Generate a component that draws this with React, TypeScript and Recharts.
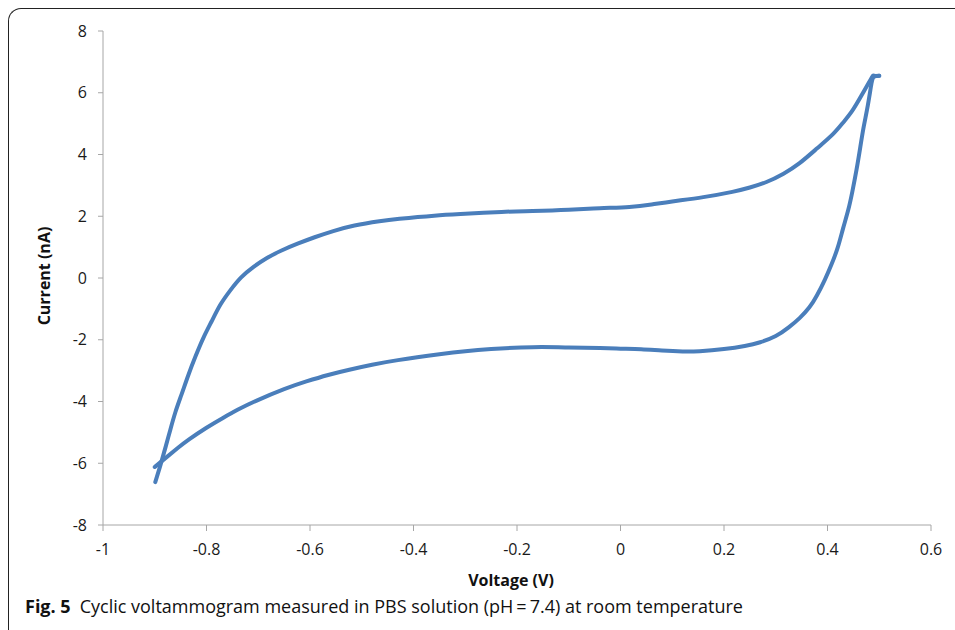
import React from 'react';
import { LineChart, Line, XAxis, YAxis } from 'recharts';

// Forward (anodic) scan
const forwardVoltage: number[] = [
  -0.899, -0.889, -0.879, -0.87, -0.86, -0.848, -0.835, -0.821, -0.806, -0.79,
  -0.773, -0.754, -0.733, -0.709, -0.684, -0.655, -0.624, -0.591, -0.555, -0.514,
  -0.466, -0.427, -0.36, -0.3, -0.23, -0.17, -0.1, -0.04, 0.017, 0.06,
  0.1, 0.16, 0.216, 0.25, 0.282, 0.315, 0.346, 0.38, 0.41, 0.43,
  0.448, 0.467, 0.485, 0.49, 0.5,
];
const forwardCurrent: number[] = [
  -6.61, -6.06, -5.47, -4.92, -4.34, -3.76, -3.14, -2.53, -1.94, -1.4,
  -0.86, -0.4, 0.02, 0.36, 0.64, 0.89, 1.11, 1.32, 1.52, 1.7,
  1.84, 1.92, 2.02, 2.08, 2.14, 2.17, 2.21, 2.26, 2.3, 2.38,
  2.48, 2.62, 2.79, 2.93, 3.11, 3.38, 3.72, 4.2, 4.65, 5.03,
  5.42, 5.95, 6.48, 6.55, 6.55,
];
// Reverse (cathodic) scan
const reverseVoltage: number[] = [
  0.5, 0.49, 0.485, 0.478, 0.47, 0.463, 0.456, 0.448, 0.44, 0.43, 0.42, 0.408,
  0.395, 0.38, 0.365, 0.346, 0.325, 0.3, 0.27, 0.24, 0.2, 0.153,
  0.12, 0.08, 0.04, 0.0, -0.04, -0.1, -0.17, -0.25, -0.3, -0.35,
  -0.43, -0.48, -0.524, -0.565, -0.607, -0.65, -0.703, -0.74, -0.769, -0.8,
  -0.833, -0.855, -0.877, -0.9,
];
const reverseCurrent: number[] = [
  6.55, 6.52, 6.3, 5.6, 4.9, 4.2, 3.5, 2.8, 2.2, 1.6, 1.0, 0.45,
  -0.05, -0.55, -0.95, -1.3, -1.6, -1.88, -2.08, -2.2, -2.3, -2.37,
  -2.38, -2.35, -2.31, -2.29, -2.27, -2.25, -2.24, -2.3, -2.37, -2.47,
  -2.66, -2.81, -2.97, -3.14, -3.35, -3.6, -3.97, -4.27, -4.54, -4.85,
  -5.22, -5.5, -5.8, -6.12,
];

const xTicks: number[] = [-1, -0.8, -0.6, -0.4, -0.2, 0, 0.2, 0.4, 0.6];
const yTicks: number[] = [-8, -6, -4, -2, 0, 2, 4, 6, 8];

const forwardData = forwardVoltage.map((v, k) => ({ v, i: forwardCurrent[k] }));
const reverseData = reverseVoltage.map((v, k) => ({ v, i: reverseCurrent[k] }));

const FONT = '"Open Sans", "Liberation Sans", sans-serif';
const AXIS = '#a6a6a6';
const BLUE = '#4a7ebb';

export default function App() {
  return (
    <div
      style={{
        position: 'absolute',
        left: 0,
        top: 0,
        width: 955,
        height: 630,
        background: '#fff',
        overflow: 'hidden',
        fontFamily: FONT,
      }}
    >
      <div
        style={{
          position: 'absolute',
          left: 8,
          top: 8,
          width: 1100,
          height: 800,
          borderTop: '1.5px solid #222',
          borderLeft: '1.5px solid #222',
          borderTopLeftRadius: 13,
          boxSizing: 'border-box',
        }}
      />
      <div style={{ position: 'absolute', left: 0, top: 0 }}>
        <LineChart
          width={955}
          height={630}
          margin={{ top: 31, right: 24, bottom: 65, left: 43 }}
        >
          <XAxis
            type="number"
            dataKey="v"
            domain={[-1, 0.6]}
            ticks={xTicks}
            allowDataOverflow
            height={40}
            stroke={AXIS}
            tickSize={6}
            tickMargin={13}
            tick={{ fill: '#1a1a1a', fontSize: 16, fontFamily: FONT }}
          />
          <YAxis
            type="number"
            dataKey="i"
            domain={[-8, 8]}
            ticks={yTicks}
            allowDataOverflow
            width={60}
            stroke={AXIS}
            tickSize={5}
            tickMargin={11}
            tick={{ fill: '#1a1a1a', fontSize: 16, fontFamily: FONT }}
          />
          <Line
            data={forwardData}
            type="natural"
            dataKey="i"
            stroke={BLUE}
            strokeWidth={4}
            dot={false}
            strokeLinecap="round"
            strokeLinejoin="round"
            isAnimationActive={false}
          />
          <Line
            data={reverseData}
            type="natural"
            dataKey="i"
            stroke={BLUE}
            strokeWidth={4}
            dot={false}
            strokeLinecap="round"
            strokeLinejoin="round"
            isAnimationActive={false}
          />
        </LineChart>
      </div>
      <div
        style={{
          position: 'absolute',
          left: 311,
          width: 400,
          top: 569,
          textAlign: 'center',
          fontWeight: 700,
          fontSize: 16,
          color: '#111',
        }}
      >
        Voltage (V)
      </div>
      <div
        style={{
          position: 'absolute',
          left: 44,
          top: 276,
          transform: 'translate(-50%, -50%) rotate(-90deg)',
          whiteSpace: 'nowrap',
          fontWeight: 700,
          fontSize: 16,
          color: '#111',
        }}
      >
        Current (nA)
      </div>
      <div
        style={{
          position: 'absolute',
          left: 25,
          top: 594,
          whiteSpace: 'nowrap',
          fontSize: 18,
          color: '#111',
        }}
      >
        <span style={{ fontWeight: 700 }}>Fig. 5</span>
        <span style={{ marginLeft: 9 }}>
          Cyclic voltammogram measured in PBS solution (pH{'\u2009'}={'\u2009'}7.4) at room temperature
        </span>
      </div>
    </div>
  );
}
